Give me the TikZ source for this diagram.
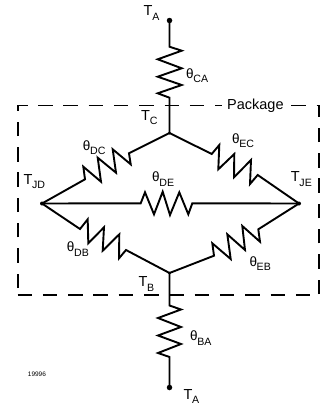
\documentclass[tikz,border=0pt]{standalone}
\usepackage{fontspec}
\setmainfont{Liberation Sans}
\newcommand{\lab}[2]{#1\raisebox{-4.3pt}{\fontsize{10.6}{11}\selectfont\kern-0.3pt #2}}
\newcommand{\thlab}[1]{\lab{{\fontsize{13.5}{14}\selectfont θ}}{#1}}
\tikzset{wire/.style={line width=1.9pt,line join=miter,line cap=butt},
 dotn/.style={circle,fill=black,inner sep=0pt,minimum size=5.5pt},
 lbl/.style={inner sep=0pt,anchor=base west,font=\fontsize{14.5}{15}\selectfont},
 pkg/.style={line width=1.3pt,dash pattern=on 14.5pt off 10.8pt}}
\begin{document}
\begin{tikzpicture}[x=1pt,y=-1pt]
\useasboundingbox (0,0) rectangle (320,407);
\node[dotn] (ta1) at (169.5,20.5) {};
\node[dotn,minimum size=3pt] (tc) at (169.5,133) {};
\node[dotn,minimum size=3pt] (tb) at (169.5,273) {};
\node[dotn] (ta2) at (169.5,387.5) {};
\node[dotn,minimum size=4pt] (jd) at (42,203.5) {};
\node[dotn,minimum size=4pt] (je) at (299,203.5) {};
\draw[pkg] (18,288) -- (18,105);
\draw[line width=1.3pt] (17.35,105.5) -- (28,105.5);
\draw[pkg] (38,105.5) -- (222,105.5);
\draw[pkg] (291,105.5) -- (306,105.5);
\draw[pkg] (319,294) -- (319,105);
\draw[line width=1.3pt] (316.5,105.5) -- (319.6,105.5);
\draw[pkg] (17.5,295) -- (311,295);
\draw[wire] (ta1.center) -- (169.5,46.7) -- (181.7,50.7) -- (157.7,59.3) -- (181.7,68.3) -- (157.7,76.7) -- (181.7,85) -- (157.7,93.3) -- (169.5,97.7) -- (tc.center);
\draw[wire] (tb.center) -- (169.5,305.5) -- (181,309.5) -- (158,318) -- (181,327) -- (158,335.5) -- (181,344) -- (158,353) -- (169.5,357) -- (ta2.center);
\draw[wire] (tc.center) -- (129,153.3) -- (130.7,164.3) -- (112.7,149.3) -- (116,172.7) -- (97.7,157.7) -- (101,181.7) -- (83.3,166.7) -- (85,179.3) -- (jd.center);
\draw[wire] (tc.center) -- (211.7,154) -- (219.3,145) -- (218.3,169.3) -- (234.3,154) -- (234,177.3) -- (251,160) -- (250,184) -- (257.7,175) -- (je.center);
\draw[wire] (jd.center) -- (80,229) -- (87.7,219.3) -- (88.3,243.3) -- (104,227.3) -- (102.7,250.7) -- (119.3,234.3) -- (119,258.3) -- (126,250) -- (tb.center);
\draw[wire] (je.center) -- (258.3,229.3) -- (260,241.7) -- (242.3,226) -- (245,250) -- (227.3,234.3) -- (230.7,259) -- (212.3,243.3) -- (214,255.7) -- (tb.center);
\draw[wire] (jd.center) -- (140.7,203.3) -- (145,192.3) -- (154,214.3) -- (162.7,191.7) -- (170,215) -- (179.3,192.3) -- (188.3,214.3) -- (192.3,203.3) -- (je.center);
\node[lbl] (l1) at (143.5,15.7) {\lab{T}{A}};
\node[lbl] (l2) at (186,78.3) {\thlab{CA}};
\node[lbl] (l3) at (141,120) {\lab{T}{C}};
\node[lbl] (l4) at (227,109.7) {Package};
\node[lbl] (l5) at (82.7,150) {\thlab{DC}};
\node[lbl] (l6) at (232,143.3) {\thlab{EC}};
\node[lbl] (l7) at (23.3,184) {\lab{T}{JD}};
\node[lbl] (l8) at (290.7,181.7) {\lab{T}{JE}};
\node[lbl] (l9) at (152,181.7) {\thlab{DE}};
\node[lbl] (l10) at (66.7,251.7) {\thlab{DB}};
\node[lbl] (l11) at (249.3,266) {\thlab{EB}};
\node[lbl] (l12) at (138.3,286.7) {\lab{T}{B}};
\node[lbl] (l13) at (190,340.7) {\thlab{BA}};
\node[lbl] (l14) at (183.3,399) {\lab{T}{A}};
\node[inner sep=0pt,anchor=base west,font=\fontsize{6.5}{7}\selectfont] (l15) at (27.7,376.7) {19996};
\end{tikzpicture}
\end{document}
